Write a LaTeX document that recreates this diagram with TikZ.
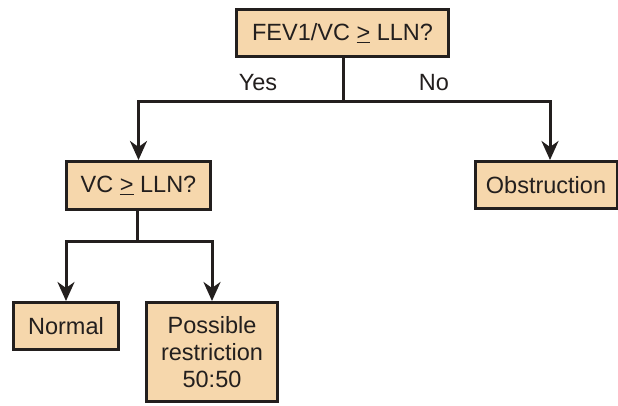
\documentclass[tikz,border=0pt]{standalone}
\usepackage{fontspec}
\setmainfont{Liberation Sans}
\usetikzlibrary{arrows.meta}
\definecolor{boxfill}{RGB}{246,215,172}
\definecolor{ink}{RGB}{35,31,30}
\begin{document}
\begin{tikzpicture}[x=1pt,y=-1pt,
  box/.style={draw=ink,line width=3pt,fill=boxfill,inner sep=0pt,font=\fontsize{23.5}{27}\selectfont,text=ink,align=center},
  conn/.style={draw=ink,line width=3pt},
  arr/.style={conn,-{Stealth[length=19pt,width=17pt,inset=6pt]}},
  lbl/.style={font=\fontsize{23.5}{27}\selectfont,text=ink}]
\useasboundingbox (0,0) rectangle (618,405);
\node[box,minimum width=212pt,minimum height=47pt] (top) at (342.5,33) {FEV1/VC \underline{>} LLN?};
\node[box,minimum width=144pt,minimum height=48pt] (vc) at (138.5,185.5) {VC \underline{>} LLN?};
\node[box,minimum width=142pt,minimum height=47pt] (obs) at (546,185) {Obstruction};
\node[box,minimum width=105pt,minimum height=47pt] (norm) at (66,326) {Normal};
\node[box,minimum width=131pt,minimum height=99pt] (poss) at (212,352) {Possible\\restriction\\50:50};
\coordinate (j1) at (343,101);
\coordinate (j2) at (137.5,241);
\node[lbl] (yes) at (258,83) {Yes};
\node[lbl] (no) at (434,83) {No};
\draw[conn] (top.south -| j1) -- (j1);
\draw[arr] (j1) -| (vc.north);
\draw[arr] (j1) -| (obs.north -| 550,0);
\draw[conn] (vc.south -| j2) -- (j2);
\draw[arr] (j2) -| (norm.north);
\draw[arr] (j2) -| (poss.north);
\end{tikzpicture}
\end{document}
